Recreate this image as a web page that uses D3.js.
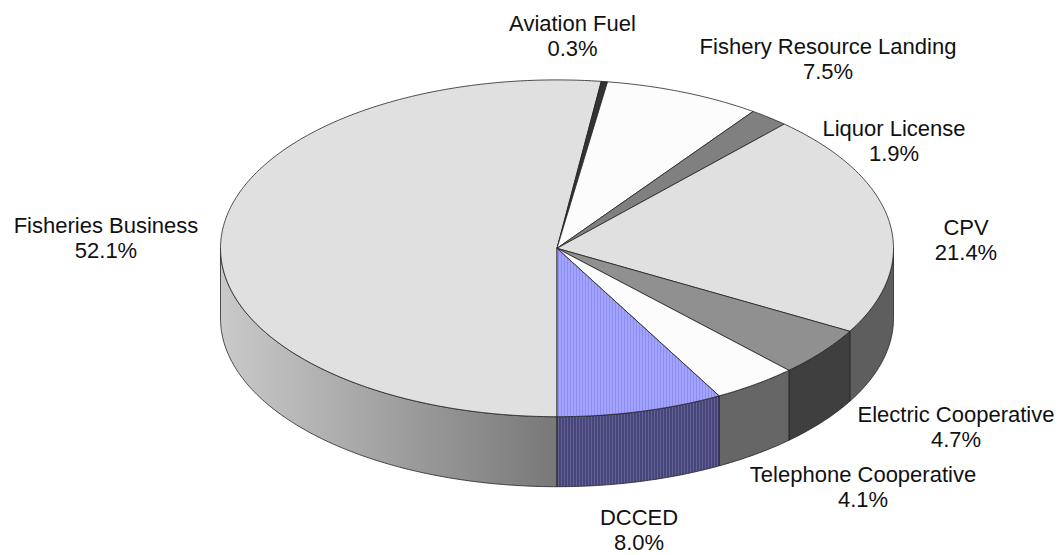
<!DOCTYPE html>
<html>
<head>
<meta charset="utf-8">
<script src="https://cdn.jsdelivr.net/npm/d3@7"></script>
<style>
html, body { margin: 0; padding: 0; background: #fff; }
text { font-family: "Liberation Sans", Arial, sans-serif; font-size: 22px; fill: #111; }
</style>
</head>
<body>
<script>
let width = 1061,
	height = 555;

// slices, clockwise starting from straight down
let categories = ["Fisheries Business", "Aviation Fuel", "Fishery Resource Landing", "Liquor License", "CPV", "Electric Cooperative", "Telephone Cooperative", "DCCED"];
let shares = [52.1, 0.3, 7.5, 1.9, 21.4, 4.7, 4.1, 8.0];
let topColors = ["#e0e0e0", "#333333", "#fcfcfc", "#808080", "#e0e0e0", "#909090", "#fcfcfc", "url(#dots-top)"];
let sideColors = ["url(#fade)", "#222222", "#c0c0c0", "#444444", "#5e5e5e", "#3f3f3f", "#666666", "url(#dots-side)"];
let labelX = [106, 572.5, 828, 894, 966, 956, 863, 639];
let labelY = [233, 31, 54, 136, 235, 422, 482, 525];

let cx = 557, cy = 248.3, rx = 336.5, ry = 168.4, depth = 70;

let svg = d3.select("body").append("svg").attr("width", width).attr("height", height).style("display", "block");
let defs = svg.append("defs");

let fade = defs.append("linearGradient").attr("id", "fade")
	.attr("gradientUnits", "userSpaceOnUse")
	.attr("x1", cx - rx).attr("x2", cx).attr("y1", 0).attr("y2", 0);
fade.append("stop").attr("offset", 0).attr("stop-color", "#cacaca");
fade.append("stop").attr("offset", 1).attr("stop-color", "#787878");

function stripes(id, base, stripe) {
	let p = defs.append("pattern").attr("id", id)
		.attr("patternUnits", "userSpaceOnUse").attr("width", 3).attr("height", 2);
	p.append("rect").attr("width", 3).attr("height", 2).attr("fill", base);
	p.append("rect").attr("width", 1).attr("height", 2).attr("fill", stripe);
}
stripes("dots-top", "#a2a2ff", "#8e8eee");
stripes("dots-side", "#46467c", "#626290");

// unit circle to page
let x = d3.scaleLinear().domain([-1, 1]).range([cx - rx, cx + rx]);
let y = d3.scaleLinear().domain([-1, 1]).range([cy - ry, cy + ry]);

let pie = d3.pie().sort(null).value(d => d)
	.startAngle(Math.PI).endAngle(3 * Math.PI);
let slices = pie(shares);

function rim(a0, a1, drop) {
	let n = Math.max(2, Math.ceil((a1 - a0) / 0.01));
	return d3.range(n + 1).map(i => {
		let a = a0 + (a1 - a0) * i / n;
		return [x(Math.sin(a)), y(-Math.cos(a)) + drop];
	});
}

let line = d3.line();

// side wall, only the front half of the pie shows it (90 to 270 degrees)
function wall(d) {
	let out = "";
	let front = [[Math.PI / 2, 3 * Math.PI / 2], [5 * Math.PI / 2, 7 * Math.PI / 2]];
	front.forEach(f => {
		let a0 = Math.max(d.startAngle, f[0]), a1 = Math.min(d.endAngle, f[1]);
		if (a1 <= a0) return;
		out += line(rim(a0, a1, 0).concat(rim(a0, a1, depth).reverse())) + "Z";
	});
	return out;
}

svg.append("g").selectAll("path").data(slices).join("path")
	.attr("d", wall)
	.attr("fill", (d, i) => sideColors[i])
	.attr("stroke", "#222")
	.attr("stroke-width", 0.8);

svg.append("g").selectAll("path").data(slices).join("path")
	.attr("d", d => line([[cx, cy]].concat(rim(d.startAngle, d.endAngle, 0))) + "Z")
	.attr("fill", (d, i) => topColors[i])
	.attr("stroke", "#222")
	.attr("stroke-width", 0.8);

let labels = svg.append("g").selectAll("text").data(categories).join("text")
	.attr("text-anchor", "middle")
	.attr("x", (d, i) => labelX[i])
	.attr("y", (d, i) => labelY[i]);
labels.append("tspan").text(d => d);
labels.append("tspan")
	.attr("x", (d, i) => labelX[i])
	.attr("dy", 25)
	.text((d, i) => shares[i].toFixed(1) + "%");
</script>
</body>
</html>
